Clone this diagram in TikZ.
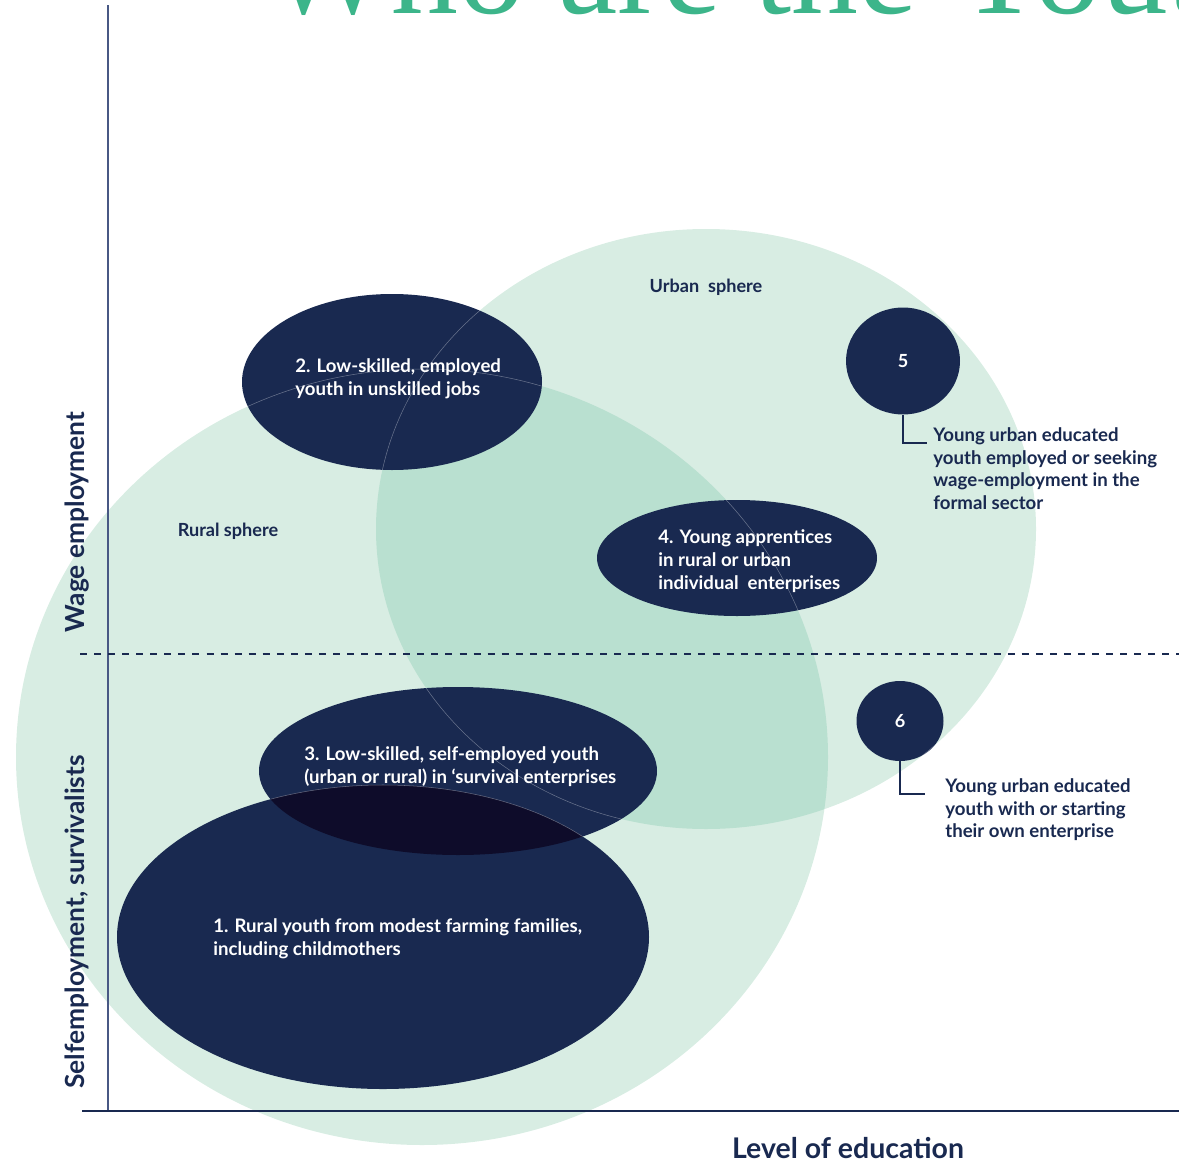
\documentclass[tikz,border=0pt]{standalone}
\usepackage{fontspec}
\setmainfont{Lato}
\newfontfamily\titlefont{Liberation Serif}
\usepackage{tikz}
\usetikzlibrary{shapes.geometric,positioning}
\usepackage{xcolor}
\definecolor{Marine}{RGB}{25,41,80}
\definecolor{MarineDeep}{RGB}{14,12,42}
\definecolor{Mint}{RGB}{216,237,227}
\definecolor{MintDeep}{RGB}{185,224,208}
\definecolor{Jade}{RGB}{60,181,138}
\definecolor{AxisBlue}{RGB}{72,88,132}

\begin{document}
\begin{tikzpicture}[x=0.02cm, y=-0.02cm,
  inlabel/.style={text=white, font=\bfseries\fontsize{10.6}{13}\selectfont, align=left, inner sep=0pt, anchor=west},
  sphlabel/.style={text=Marine, font=\bfseries\fontsize{10.3}{13}\selectfont, inner sep=0pt},
  calltext/.style={text=Marine, font=\bfseries\fontsize{10.6}{13}\selectfont, align=left, inner sep=0pt, anchor=north west},
  axislabel/.style={text=Marine, font=\bfseries\fontsize{15}{18}\selectfont, inner sep=0pt},
  dot/.style={ellipse, fill=Marine, text=white, inner sep=0pt, font=\bfseries\fontsize{10.3}{13}\selectfont},
  callout/.style={Marine, line width=1.4pt},
  seam/.style={white, opacity=0.35, line width=0.3pt}]
\clip (0,0) rectangle (1179,1162);
%
\node[anchor=base west, text=Jade, inner sep=0pt, font=\titlefont\fontsize{76}{76}\selectfont] (title) at (265,14) {Who are the Youth};
%
% spheres
\fill[Mint] (422,757) ellipse [x radius=406, y radius=388];
\fill[Mint] (706,529) ellipse [x radius=330, y radius=300];
\begin{scope}
\clip (422,757) ellipse [x radius=406, y radius=388];
\fill[MintDeep] (706,529) ellipse [x radius=330, y radius=300];
\end{scope}
%
% axes
\coordinate (origin) at (108,1111);
\draw[AxisBlue, line width=0.6pt] (origin) -- (108,5);
\draw[Marine, line width=0.8pt] (82,1111) -- (1179,1111);
\draw[Marine, line width=0.6pt, dash pattern=on 4pt off 4pt] (80,654) -- (1179,654);
%
% groups
\fill[Marine] (392,382) ellipse [x radius=150, y radius=88];
\fill[Marine] (737,558) ellipse [x radius=140, y radius=58];
\fill[Marine] (383,937) ellipse [x radius=266, y radius=152];
\fill[Marine] (458,771) ellipse [x radius=199, y radius=84];
\begin{scope}
\clip (383,937) ellipse [x radius=266, y radius=152];
\fill[MarineDeep] (458,771) ellipse [x radius=199, y radius=84];
\end{scope}
\node[dot, minimum width=2.28cm, minimum height=2.14cm] (five) at (903,361) {5};
\node[dot, minimum width=1.74cm, minimum height=1.6cm] (six) at (900,721) {6};
%
\foreach \cx/\cy/\rx/\ry in {392/382/150/88, 737/558/140/58, 458/771/199/84, 900/721/43.5/40}{
  \begin{scope}
  \clip (\cx,\cy) ellipse [x radius=\rx, y radius=\ry];
  \draw[seam] (422,757) ellipse [x radius=406, y radius=388];
  \draw[seam] (706,529) ellipse [x radius=330, y radius=300];
  \draw[seam] (383,937) ellipse [x radius=266, y radius=152];
  \end{scope}
}
%
\node[sphlabel] (urban) at (706,287) {Urban\ \ sphere};
\node[sphlabel] (rural) at (228,531) {Rural sphere};
\node[inlabel] (lowjobs) at (295,379) {2. Low-skilled, employed\\youth in unskilled jobs};
\node[inlabel] (apprentices) at (658,561) {4. Young apprentices\\in rural or urban\\individual\ \ enterprises};
\node[inlabel] (survival) at (304,767) {3. Low-skilled, self-employed youth\\(urban or rural) in ‘survival enterprises};
\node[inlabel] (farming) at (213,939) {1. Rural youth from modest farming families,\\including childmothers};
%
\node[calltext] (fivetext) at (933,427) {Young urban educated\\youth employed or seeking\\wage-employment in the\\formal sector};
\coordinate (fivehook) at (927,443);
\draw[callout] (five.south) |- (fivehook);
\node[calltext] (sixtext) at (945,778) {Young urban educated\\youth with or starting\\their own enterprise};
\coordinate (sixhook) at (925,794);
\draw[callout] (six.south) |- (sixhook);
%
\node[axislabel, rotate=90] (wage) at (77,522) {Wage employment};
\node[axislabel, rotate=90] (selfemp) at (77,922) {Selfemployment, survivalists};
\node[axislabel, anchor=base, font=\bfseries\fontsize{16.2}{18}\selectfont] (education) at (848,1158) {Level of education};
\end{tikzpicture}
\end{document}
